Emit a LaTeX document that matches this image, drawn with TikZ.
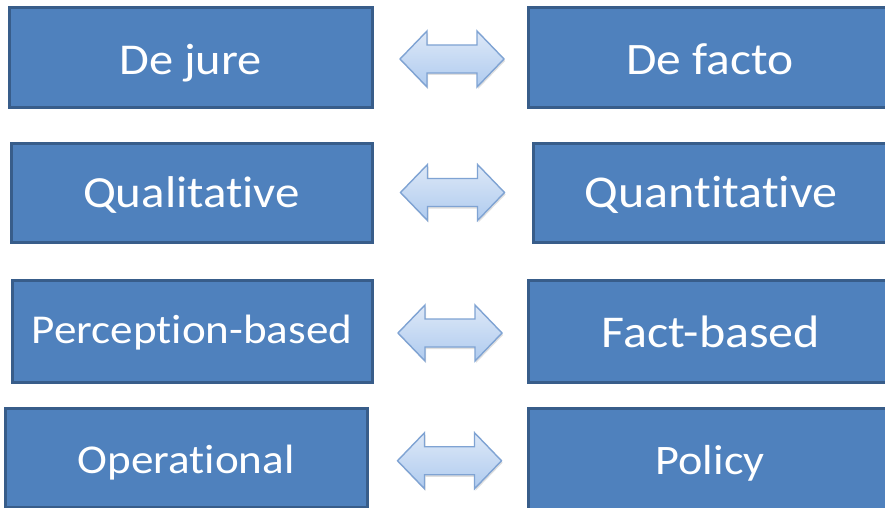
\documentclass[tikz,border=0pt]{standalone}
\usepackage{fontspec}
\setmainfont{Carlito}[FakeStretch=1.1, Ligatures=NoCommon]
\usetikzlibrary{calc,shadows}
\definecolor{boxfill}{HTML}{4F81BD}
\definecolor{boxline}{HTML}{385D8A}
\definecolor{arrtop}{HTML}{DDE8F7}
\definecolor{arrbot}{HTML}{AFCBEF}
\definecolor{arrline}{HTML}{7FA3D3}
\tikzset{
  box/.style={draw=boxline, line width=3pt, fill=boxfill, text=white,
    inner sep=0pt, text depth=0pt},
  fs/.style={font=\fontsize{#1}{#1}\selectfont},
  bl/.style={text height=#1*2pt},
  arrowsty/.style={draw=arrline, line width=1.4pt, line join=miter,
    top color=arrtop, bottom color=arrbot,
    drop shadow={opacity=0.25, shadow xshift=1pt, shadow yshift=-2pt}},
}
\newcommand\dblarrow[1]{%
  \draw[arrowsty, shift={(#1)}] (-52,0) -- (-25,-28) -- (-25,-14) -- (25,-14) -- (25,-28)
    -- (52,0) -- (25,28) -- (25,14) -- (-25,14) -- (-25,28) -- cycle;}
\begin{document}
\begin{tikzpicture}[x=1pt,y=-1pt]
\fill[white] (0,0) rectangle (885,508);
\useasboundingbox (0,0) rectangle (885,508);
% left column
\node[box, fs=44, bl=17, minimum width=363pt, minimum height=100pt] (L1) at (190.5,58) {De jure};
\node[box, fs=44.5, bl=14.5, minimum width=361pt, minimum height=99pt] (L2) at (191.5,192.5) {Qualitative};
\node[box, fs=41, bl=12, minimum width=360pt, minimum height=102pt] (L3) at (192,331) {Perception-based};
\node[box, fs=41, bl=15.5, minimum width=362pt, minimum height=99pt] (L4) at (186,457.5) {Operational};
% right column
\node[box, fs=45, bl=17, minimum width=364pt, minimum height=100pt] (R1) at (710,58) {De facto};
\node[box, fs=45.5, bl=14.5, minimum width=356pt, minimum height=99pt] (R2) at (711,192.5) {Quantitative};
\node[box, fs=45.5, bl=16, minimum width=366pt, minimum height=102pt] (R3) at (711,331) {Fact-based};
\node[box, fs=42, bl=14, minimum width=364pt, minimum height=104pt] (R4) at (710,460) {Policy};
% connectors
\coordinate (m1) at ($(L1.east)!0.5!(R1.west)+(2,1)$);
\coordinate (m2) at ($(L2.east)!0.5!(R2.west)+(0,0)$);
\coordinate (m3) at ($(L3.east)!0.5!(R3.west)+(0,2)$);
\coordinate (m4) at ($(L4.east)!0.5!(R4.west)+(2,2)$);
\dblarrow{m1}
\dblarrow{m2}
\dblarrow{m3}
\dblarrow{m4}
\end{tikzpicture}
\end{document}
